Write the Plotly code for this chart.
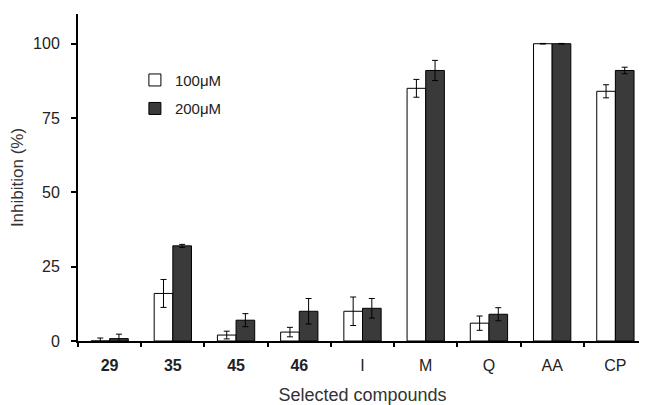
import plotly.graph_objects as go

categories = ["29", "35", "45", "46", "I", "M", "Q", "AA", "CP"]
tick_labels = ["<b>29</b>", "<b>35</b>", "<b>45</b>", "<b>46</b>", "I", "M", "Q", "AA", "CP"]
inh_100 = [0.0, 16.0, 2.0, 3.0, 10.0, 85.0, 6.0, 100.0, 84.0]
err_100 = [1.0, 4.7, 1.3, 1.6, 4.8, 3.0, 2.4, 0.1, 2.2]
inh_200 = [0.8, 32.0, 7.0, 10.0, 11.0, 91.0, 9.0, 100.0, 91.0]
err_200 = [1.5, 0.5, 2.2, 4.3, 3.3, 3.4, 2.2, 0.1, 1.1]

FONT = "Liberation Sans, Arial, sans-serif"

fig = go.Figure()
fig.add_trace(go.Bar(
    name="100μM", x=categories, y=inh_100, legendgroup="a",
    marker=dict(color="white", line=dict(color="black", width=1)),
    error_y=dict(type="data", array=err_100, color="black", thickness=1, width=3),
))
fig.add_trace(go.Bar(
    name="200μM", x=categories, y=inh_200, legendgroup="b",
    marker=dict(color="#3a3a3a", line=dict(color="black", width=1)),
    error_y=dict(type="data", array=err_200, color="black", thickness=1, width=3),
))

# page body has an 8px default margin, so the figure is 8px smaller and margins compensate
fig.update_layout(
    width=639, height=397,
    margin=dict(l=70, r=0, t=6, b=64, autoexpand=False),
    paper_bgcolor="white", plot_bgcolor="white",
    barmode="group", bargap=0.41, bargroupgap=0,
    font=dict(family=FONT, size=16, color="#222"),
    showlegend=True,
    legend=dict(x=0.1, y=0.848, xanchor="left", yanchor="top",
                bgcolor="rgba(0,0,0,0)", font=dict(size=15, color="#222"),
                itemwidth=30, tracegroupgap=6),
    xaxis=dict(
        type="category", tickmode="array", tickvals=categories, ticktext=tick_labels,
        tickson="boundaries", ticks="outside", ticklen=4, tickwidth=1.5, tickcolor="black",
        ticklabelstandoff=9,
        showline=True, linecolor="black", linewidth=2, showgrid=False, automargin=False,
        title=dict(text="Selected compounds", font=dict(size=18, color="#333"), standoff=17),
        tickfont=dict(size=16, color="#222"),
    ),
    yaxis=dict(
        range=[0, 110], tickvals=[0, 25, 50, 75, 100],
        ticks="outside", ticklen=5, tickwidth=1.5, tickcolor="black",
        ticklabelstandoff=8,
        showline=True, linecolor="black", linewidth=2, showgrid=False, zeroline=False,
        automargin=False,
        title=dict(text="Inhibition (%)", font=dict(size=17, color="#333"), standoff=14),
        tickfont=dict(size=16, color="#222"),
    ),
)

fig.write_html("out.html")
